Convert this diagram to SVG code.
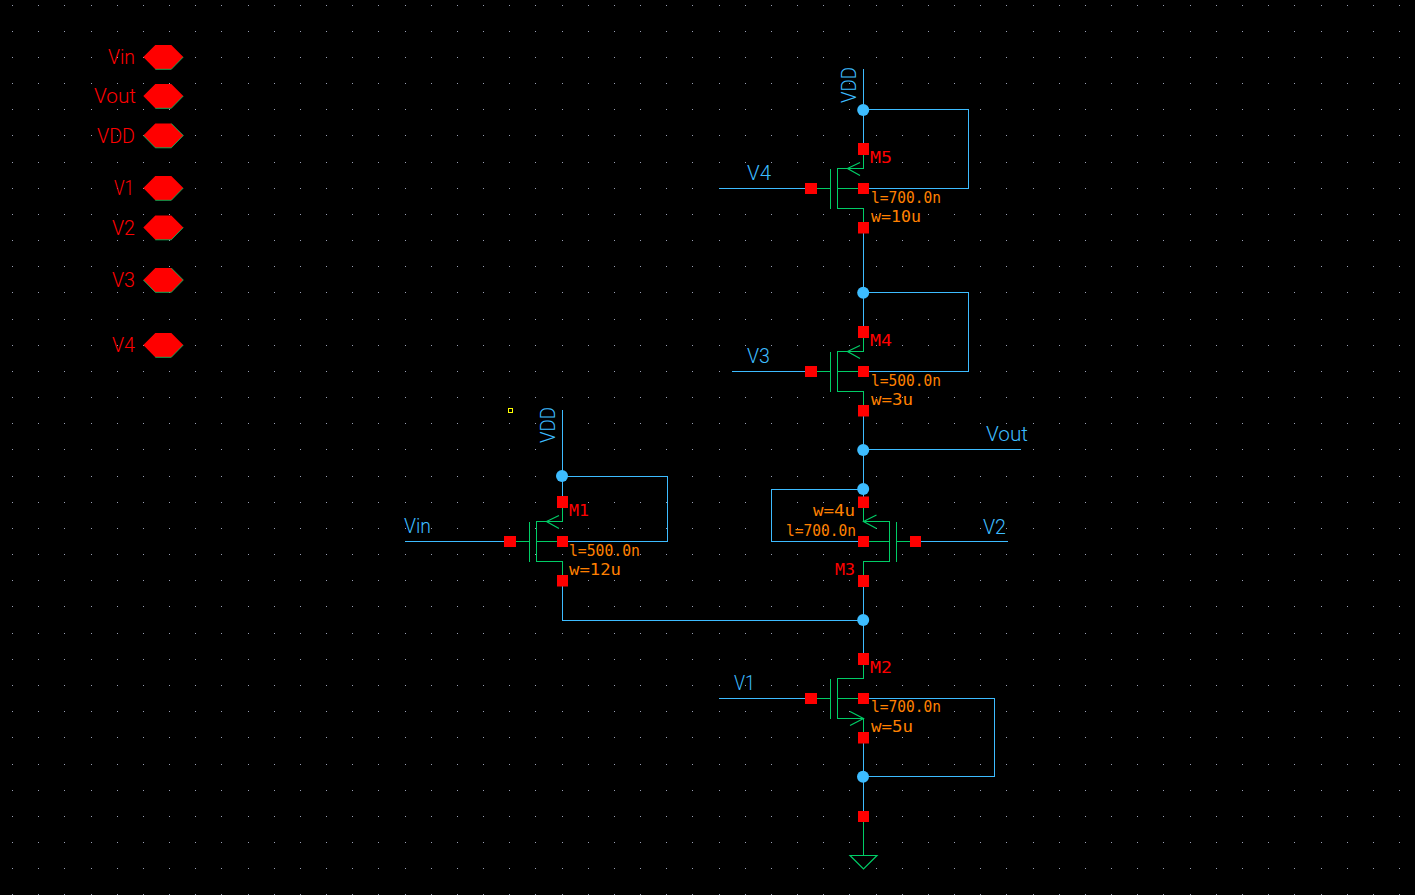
<svg xmlns="http://www.w3.org/2000/svg" width="1415" height="895" viewBox="0 0 1415 895">
<style>
text{font-family:"DejaVu Sans Mono","Liberation Mono",monospace;font-size:15.5px}
.big{font-family:Roboto,"Liberation Sans",Arial,sans-serif;font-weight:300;font-size:20px}
.m{font-size:16px}
.b{fill:#3dbcff}.r{fill:#f00}.o{fill:#ff8000}
.wire{fill:none;stroke:#3dbcff;stroke-width:1;shape-rendering:crispEdges}
.g{fill:none;stroke:#00cc66;stroke-width:1.2}
.s{shape-rendering:crispEdges;stroke-width:1}
.e{fill:none;stroke:#00cc66;stroke-width:.8}
.pin{fill:#f00}
.dot{fill:#3dbcff}
</style>
<defs>
<g id="pins"><rect class="pin" x="-5.5" y="-45.5" width="11" height="12"/><rect class="pin" x="-5.5" y="-5.5" width="11" height="11"/><rect class="pin" x="-5.5" y="33.5" width="11" height="11.5"/></g>
<g id="pmos"><path class="g s" d="M0 -39V-20H-26V20H0V39M-33 -20V20M-52 0H-33M-26 0H0"/><path class="g" d="M-3.5 -26L-16 -20L-3.5 -13"/><use href="#pins"/><rect class="pin" x="-58.5" y="-5.5" width="12" height="11"/></g>
<g id="nmos"><path class="g s" d="M0 -39V-20H-26V20H0V39M-33 -20V20M-52 0H-33M-26 0H0"/><path class="g" d="M-13.5 13L0 20L-13.5 27"/><use href="#pins"/><rect class="pin" x="-58.5" y="-5.5" width="12" height="11"/></g>
<polygon id="hex" class="pin" points="-20,0 -8,-12 8,-12 20,0 8,12.3 -8,12.3"/>
<path id="edgeA" class="e" d="M-8 12.3H8L20 0"/>
<path id="edgeB" class="e" d="M8 -12L20 0L8 12.3H-8L-20 0"/>
</defs>
<rect id="background" x="0" y="0" width="1415" height="895" fill="#000"/>
<path id="grid" fill="none" stroke="#9aa0b4" stroke-width="1" stroke-dasharray="1 25.17" shape-rendering="crispEdges" d="M12 5.5H1415M12 31.5H1415M12 57.5H1415M12 83.5H1415M12 109.5H1415M12 135.5H1415M12 162.5H1415M12 188.5H1415M12 214.5H1415M12 240.5H1415M12 266.5H1415M12 292.5H1415M12 319.5H1415M12 345.5H1415M12 371.5H1415M12 397.5H1415M12 423.5H1415M12 449.5H1415M12 476.5H1415M12 502.5H1415M12 528.5H1415M12 554.5H1415M12 580.5H1415M12 606.5H1415M12 633.5H1415M12 659.5H1415M12 685.5H1415M12 711.5H1415M12 737.5H1415M12 764.5H1415M12 790.5H1415M12 816.5H1415M12 842.5H1415M12 868.5H1415M12 894.5H1415"/>
<g id="connectors">
<path class="wire" d="M863.5 69V149M863.5 109.5H968.5V188.5H863.5M719 188.5H811M863.5 227V332M863.5 292.5H968.5V371.5H863.5M732 371.5H811M863.5 410V503M863.5 449.5H1021M863.5 489.5H771.5V541.5H863.5M915 541.5H1008M863.5 581V660M562.5 410V503M562.5 476.5H667.5V541.5H562.5M405 541.5H510M562.5 581V620.5H863.5M719 698.5H811M863.5 698.5H994.5V776.5H863.5M863.5 737V816"/>
<path class="g s" d="M863.5 816V855"/>
</g>
<g id="net-dots">
<circle class="dot" cx="863.2" cy="110" r="6"/><circle class="dot" cx="863.2" cy="292.7" r="6"/><circle class="dot" cx="863.2" cy="450" r="6"/><circle class="dot" cx="863.2" cy="489" r="6"/><circle class="dot" cx="863.2" cy="620" r="6"/><circle class="dot" cx="863" cy="776.7" r="6"/><circle class="dot" cx="562" cy="476" r="6"/>
</g>
<g id="M5"><use href="#pmos" x="863.5" y="188.5"/><text class="r m" x="870" y="163" textLength="22" lengthAdjust="spacingAndGlyphs">M5</text><text class="o" x="871" y="202.5" textLength="70" lengthAdjust="spacingAndGlyphs">l=700.0n</text><text class="o" x="871" y="221.5" textLength="50" lengthAdjust="spacingAndGlyphs">w=10u</text></g>
<g id="M4"><use href="#pmos" x="863.5" y="371.5"/><text class="r m" x="870" y="346" textLength="22" lengthAdjust="spacingAndGlyphs">M4</text><text class="o" x="871" y="385.5" textLength="70" lengthAdjust="spacingAndGlyphs">l=500.0n</text><text class="o" x="871" y="404.5" textLength="42" lengthAdjust="spacingAndGlyphs">w=3u</text></g>
<g id="M1"><use href="#pmos" x="562.5" y="541.5"/><text class="r m" x="569" y="515.5" textLength="20" lengthAdjust="spacingAndGlyphs">M1</text><text class="o" x="569" y="555.5" textLength="71" lengthAdjust="spacingAndGlyphs">l=500.0n</text><text class="o" x="569" y="575" textLength="52" lengthAdjust="spacingAndGlyphs">w=12u</text></g>
<g id="M3"><path class="g s" d="M863.5 502.5V521.5H889.5V561.5H863.5V581M896.5 521.5V561.5M896.5 541.5H915.5M863.5 541.5H889.5"/><path class="g" d="M876.5 515L863.5 521.5L876.5 528.5"/><rect class="pin" x="858" y="496.5" width="11" height="11.5"/><rect class="pin" x="858" y="536" width="11" height="11"/><rect class="pin" x="858" y="575" width="11" height="12"/><rect class="pin" x="910" y="536" width="11" height="11"/><text class="o" x="813" y="516" textLength="42" lengthAdjust="spacingAndGlyphs">w=4u</text><text class="o" x="786" y="536" textLength="70" lengthAdjust="spacingAndGlyphs">l=700.0n</text><text class="r m" x="835" y="575" textLength="20" lengthAdjust="spacingAndGlyphs">M3</text></g>
<g id="M2"><use href="#nmos" x="863.5" y="698.5"/><text class="r m" x="870" y="673" textLength="22" lengthAdjust="spacingAndGlyphs">M2</text><text class="o" x="871" y="712" textLength="70" lengthAdjust="spacingAndGlyphs">l=700.0n</text><text class="o" x="871" y="732" textLength="42" lengthAdjust="spacingAndGlyphs">w=5u</text></g>
<g id="net-labels">
<text class="big b" x="856" y="103" transform="rotate(-90 856 103)" textLength="36" lengthAdjust="spacingAndGlyphs">VDD</text>
<text class="big b" x="555" y="443" transform="rotate(-90 555 443)" textLength="36" lengthAdjust="spacingAndGlyphs">VDD</text>
<text class="big b" x="747" y="179.5" textLength="24" lengthAdjust="spacingAndGlyphs">V4</text>
<text class="big b" x="747" y="363" textLength="23" lengthAdjust="spacingAndGlyphs">V3</text>
<text class="big b" x="404" y="533" textLength="27" lengthAdjust="spacingAndGlyphs">Vin</text>
<text class="big b" x="986" y="441" textLength="42" lengthAdjust="spacingAndGlyphs">Vout</text>
<text class="big b" x="983" y="534" textLength="23" lengthAdjust="spacingAndGlyphs">V2</text>
<text class="big b" x="734" y="690" textLength="21" lengthAdjust="spacingAndGlyphs">V1</text>
</g>
<g id="ground"><path class="g" d="M850 855.5H877L863.5 869Z"/><rect class="pin" x="858" y="811" width="11" height="11"/></g>
<rect id="marker" x="508.5" y="408.5" width="4" height="4" fill="none" stroke="#ff0" stroke-width="1" shape-rendering="crispEdges"/>
<g id="pin-Vin"><use href="#hex" x="163.3" y="57"/><use href="#edgeA" x="163.3" y="57"/><text class="big r" x="108" y="64" textLength="27" lengthAdjust="spacingAndGlyphs">Vin</text></g>
<g id="pin-Vout"><use href="#hex" x="163.3" y="96"/><use href="#edgeA" x="163.3" y="96"/><text class="big r" x="94" y="103" textLength="42" lengthAdjust="spacingAndGlyphs">Vout</text></g>
<g id="pin-VDD"><use href="#hex" x="163.3" y="135.5"/><use href="#edgeB" x="163.3" y="135.5"/><text class="big r" x="97" y="143" textLength="38" lengthAdjust="spacingAndGlyphs">VDD</text></g>
<g id="pin-V1"><use href="#hex" x="163.3" y="188"/><use href="#edgeA" x="163.3" y="188"/><text class="big r" x="114" y="195" textLength="20" lengthAdjust="spacingAndGlyphs">V1</text></g>
<g id="pin-V2"><use href="#hex" x="163.3" y="227.5"/><use href="#edgeA" x="163.3" y="227.5"/><text class="big r" x="112" y="235" textLength="23" lengthAdjust="spacingAndGlyphs">V2</text></g>
<g id="pin-V3"><use href="#hex" x="163.3" y="280"/><use href="#edgeB" x="163.3" y="280"/><text class="big r" x="112" y="287" textLength="23" lengthAdjust="spacingAndGlyphs">V3</text></g>
<g id="pin-V4"><use href="#hex" x="163.3" y="345"/><use href="#edgeA" x="163.3" y="345"/><text class="big r" x="112" y="352" textLength="23" lengthAdjust="spacingAndGlyphs">V4</text></g>
</svg>
